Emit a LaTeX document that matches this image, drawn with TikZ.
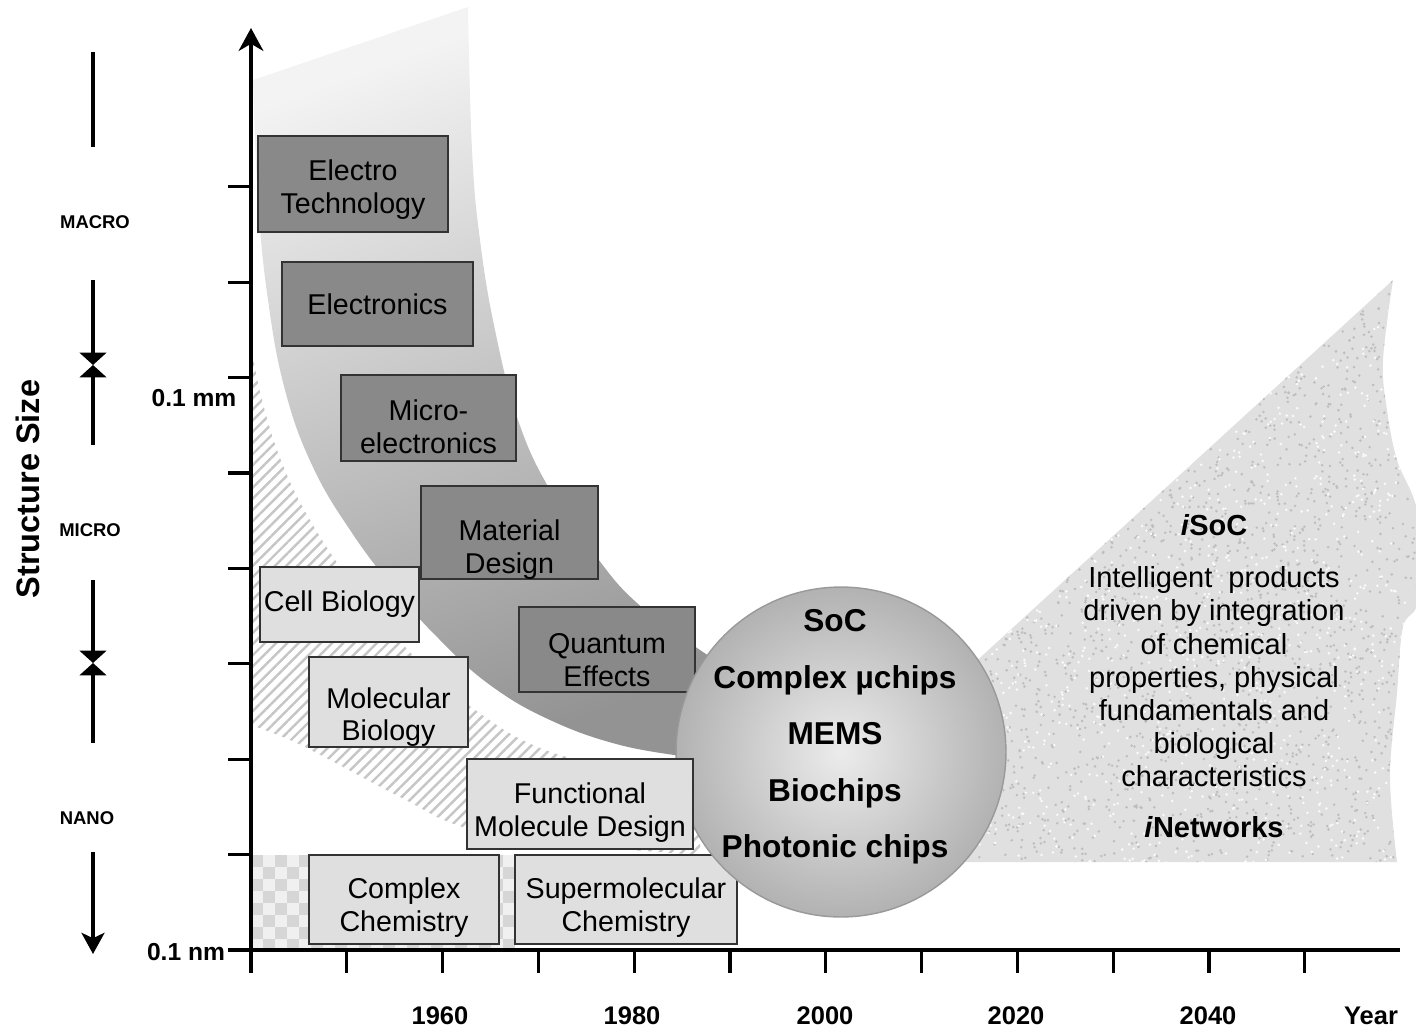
\documentclass[tikz,border=0pt]{standalone}
\usepackage{fontspec}
\setmainfont{Liberation Sans}
\usetikzlibrary{arrows.meta, positioning, calc, patterns.meta}
\definecolor{oldbox}{HTML}{898989}
\definecolor{lifebox}{HTML}{DFDFDF}
\definecolor{bandlo}{HTML}{939393}
\definecolor{bandhi}{HTML}{F3F3F3}
\definecolor{orbin}{HTML}{ECECEC}
\definecolor{orbout}{HTML}{B2B2B2}
\definecolor{hatchgray}{HTML}{C6C6C6}
\definecolor{speckbase}{HTML}{E0E0E0}
\definecolor{speckdark}{HTML}{BEBEBE}
\definecolor{checkdark}{HTML}{D6D6D6}
\definecolor{checklite}{HTML}{F0F0F0}
\newcommand{\fs}[2]{\fontsize{#1}{#2}\selectfont}
\newcommand{\lift}[1]{\rule{0pt}{#1pt}}

\begin{document}
\begin{tikzpicture}[x=0.02cm, y=-0.02cm,
    oldtech/.style={draw=black!80, line width=1.1pt, fill=oldbox, inner sep=0pt, align=center, font=\fs{16.3}{18.7}},
    newsci/.style={draw=black!80, line width=1.1pt, fill=lifebox, inner sep=0pt, align=center, font=\fs{16.3}{18.7}},
    axisline/.style={line width=2.2pt},
    tk/.style={line width=1.8pt},
    ruler/.style={line width=2.4pt},
    scalelbl/.style={font=\bfseries\fs{10.5}{12}},
    sizelbl/.style={font=\bfseries\fs{14}{16}},
    yearlbl/.style={font=\bfseries\fs{14.5}{17}},
    orb/.style={circle, draw=black!40, line width=0.8pt, inner color=orbin, outer color=orbout, minimum size=6.6cm, inner sep=0pt},
    orbtxt/.style={align=center, font=\bfseries\fs{18}{32.1}},
    futuretxt/.style={align=center, font=\fs{16.5}{18.9}}]
  \useasboundingbox (0,0) rectangle (1416,1031);

  \shade[top color=bandhi, bottom color=bandlo, shading angle=20]
    plot[smooth, tension=0.7] coordinates {(253,80) (258,200) (268,300) (285,390) (312,465) (350,530) (395,590) (440,640) (490,685) (550,720) (620,745) (690,757)}
    -- (760,757) -- (760,690)
    -- plot[smooth, tension=0.7] coordinates {(700,650) (637,603) (595,555) (550,490) (518,420) (495,330) (480,240) (472,150) (468,7)}
    -- cycle;

  \fill[pattern={Lines[angle=45, distance=4.5pt, line width=1.4pt]}, pattern color=hatchgray]
    plot[smooth, tension=0.7] coordinates {(251,345) (262,400) (282,463) (310,520) (348,578) (390,630) (432,674) (478,712) (533,745) (600,765) (700,785)}
    -- (700,855)
    -- plot[smooth, tension=0.7] coordinates {(560,845) (466,828) (400,797) (330,760) (290,740) (251,725)}
    -- cycle;

  \begin{scope}
    \clip (251,855) rectangle (515,948);
    \fill[checklite] (251,855) rectangle (515,948);
    \foreach \i in {0,...,22}{
      \foreach \j in {0,...,8}{
        \pgfmathtruncatemacro\k{mod(\i+\j,2)}
        \ifnum\k=0 \fill[checkdark] (251+12*\i,855+12*\j) rectangle ++(12,12); \fi
      }
    }
  \end{scope}

  \begin{scope}
    \clip (960,676) -- plot[smooth, tension=0.6] coordinates {(1393,280) (1383,360) (1387,410) (1397,460) (1418,515) (1418,600) (1403,627) (1397,693) (1390,777) (1397,862)} -- (960,862) -- cycle;
    \fill[speckbase] (940,260) rectangle (1420,880);
    \pgfmathsetseed{11}
    \foreach \i in {1,...,2600}{
      \pgfmathsetmacro\rx{950+470*rnd}
      \pgfmathsetmacro\ry{270+600*rnd}
      \fill[speckdark] (\rx,\ry) circle[radius=0.8pt];
    }
    \foreach \i in {1,...,1400}{
      \pgfmathsetmacro\rx{950+470*rnd}
      \pgfmathsetmacro\ry{270+600*rnd}
      \fill[white!85!speckbase] (\rx,\ry) circle[radius=0.8pt];
    }
  \end{scope}

  \node[oldtech, minimum width=3.8cm, minimum height=1.92cm] (et) at (353,184) {\lift{18.6}Electro\\Technology};
  \node[oldtech, minimum width=3.82cm, minimum height=1.68cm] (el) at (377.5,304) {Electronics};
  \node[oldtech, minimum width=3.5cm, minimum height=1.72cm] (me) at (428.5,418) {\lift{22}Micro-\\electronics};
  \node[oldtech, minimum width=3.54cm, minimum height=1.66cm] (md) at (509.5,532.5) {\lift{31}Material\\Design};
  \node[oldtech, minimum width=3.52cm, minimum height=1.7cm] (qe) at (607,649.5) {\lift{23}Quantum\\Effects};
  \node[newsci, minimum width=3.18cm, minimum height=1.5cm] (cb) at (339.5,604.5) {Cell Biology};
  \node[newsci, minimum width=3.18cm, minimum height=1.64cm] (mb) at (388.5,702) {\lift{29}Molecular\\Biology};
  \node[newsci, minimum width=3.8cm, minimum height=1.78cm] (cc) at (404,899.5) {\lift{20.9}Complex\\Chemistry};
  \node[newsci, minimum width=4.44cm, minimum height=1.78cm] (sc) at (626,899.5) {\lift{20.9}Supermolecular\\Chemistry};

  \node[orb] (orb) at (841,752) {};
  \node[newsci, minimum width=4.52cm, minimum height=1.8cm] (fmd) at (580,804) {\lift{22}Functional\\Molecule Design};
  \node[orbtxt] (orbtxt) at ($(orb.center)+(-6,-15)$) {SoC\\Complex µchips\\MEMS\\Biochips\\Photonic chips};

  \node[futuretxt] (isoc) at (1214,676) {\textbf{\textit{i}SoC}\\[11pt]Intelligent\ \ products\\driven by integration\\of chemical\\properties, physical\\fundamentals and\\biological\\characteristics\\[10pt]\textbf{\textit{i}Networks}};

  \coordinate (o) at (251,950);
  \coordinate (ybot) at (251,973);
  \coordinate (ytop) at (251,28);
  \coordinate (xleft) at (228,950);
  \coordinate (xend) at (1400,950);
  \draw[axisline, -{Stealth[length=13pt, width=14pt, inset=4pt]}] (ybot) -- (ytop);
  \draw[axisline] (xleft) -- (xend);
  \foreach \k in {1,...,8}
    \draw[tk] (228,950-95.4*\k) -- ++(23,0);
  \foreach \k in {1,...,11}
    \draw[tk] (251+95.8*\k,950) -- ++(0,23);

  \node[sizelbl] (mm) at (194,398) {0.1 mm};
  \node[sizelbl] (nm) at (186,952) {0.1 nm};
  \foreach \yr/\xx in {1960/440, 1980/632, 2000/825, 2020/1016, 2040/1208}
    \node[yearlbl] (yr\yr) at (\xx,1016) {\yr};
  \node[yearlbl] (yr) at (1371,1016) {Year};

  \node[font=\bfseries\fs{18.5}{20}, rotate=90] (ssize) at (28,489) {Structure Size};
  \node[scalelbl] (macro) at (95,222) {MACRO};
  \node[scalelbl] (micro) at (90,530) {MICRO};
  \node[scalelbl] (nano) at (87,818) {NANO};
  \coordinate (r0) at (93,52);
  \coordinate (r1) at (93,147);
  \coordinate (r2) at (93,280);
  \coordinate (j1) at (93,365);
  \coordinate (r3) at (93,445);
  \coordinate (r4) at (93,580);
  \coordinate (j2) at (93,663);
  \coordinate (r5) at (93,743);
  \coordinate (r6) at (93,852);
  \coordinate (r7) at (93,954);
  \draw[ruler] (r0) -- (r1);
  \draw[ruler, -{Triangle[length=7pt, width=15pt]}] (r2) -- (j1);
  \draw[ruler, -{Triangle[length=7pt, width=15pt]}] (r3) -- (j1);
  \draw[ruler, -{Triangle[length=7pt, width=15pt]}] (r4) -- (j2);
  \draw[ruler, -{Triangle[length=7pt, width=15pt]}] (r5) -- (j2);
  \draw[ruler, -{Stealth[length=12pt, width=13pt, inset=3pt]}] (r6) -- (r7);
\end{tikzpicture}
\end{document}
